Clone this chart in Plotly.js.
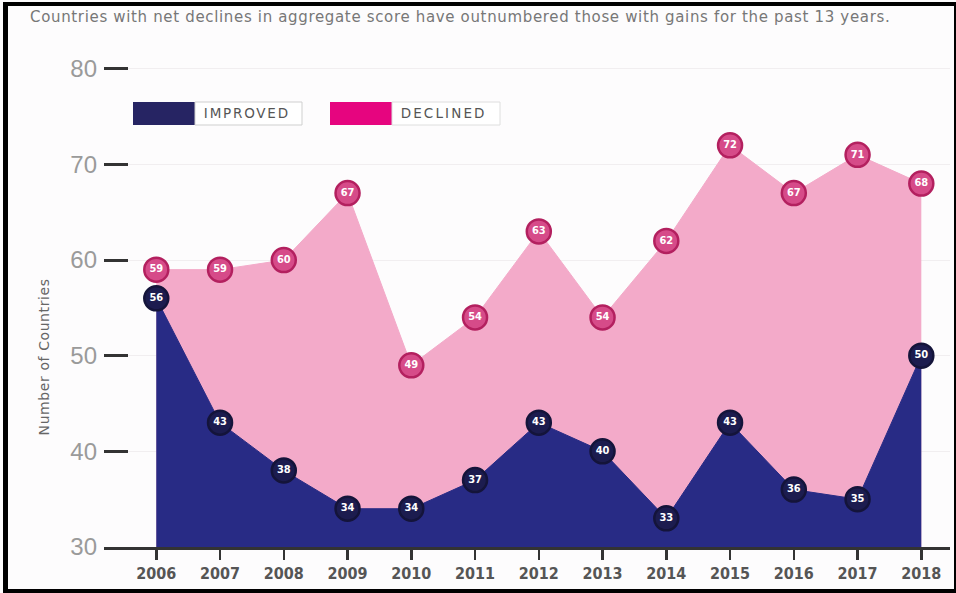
<!DOCTYPE html>
<html>
<head>
<meta charset="utf-8">
<script src="https://cdn.plot.ly/plotly-3.0.1.min.js"></script>
<style>
  html, body { margin: 0; padding: 0; background: #fdfcfd; }
  #chart { width: 956px; height: 593px; }
  #frame { position: absolute; left: 3px; top: 2px; width: 946px; height: 583px; border: 4px solid #000; border-left-width: 5px; pointer-events: none; }
</style>
</head>
<body>
<div id="chart"></div>
<div id="frame"></div>
<script>
const years = [2006, 2007, 2008, 2009, 2010, 2011, 2012, 2013, 2014, 2015, 2016, 2017, 2018];
const declined = [59, 59, 60, 67, 49, 54, 63, 54, 62, 72, 67, 71, 68];
const improved = [56, 43, 38, 34, 34, 37, 43, 40, 33, 43, 36, 35, 50];
const yTicks = [30, 40, 50, 60, 70, 80];
const legendLabels = ['IMPROVED', 'DECLINED'];
const titleText = 'Countries with net declines in aggregate score have outnumbered those with gains for the past 13 years.';
const yTitle = 'Number of Countries';

const L = 104, R = 950, T = 64, B = 547;
const px = x => (x - L) / (R - L);
const py = y => (B - y) / (B - T);
const COND = 'DejaVu Sans Condensed, Liberation Sans Narrow, sans-serif';

const traces = [
  {
    x: years, y: declined, type: 'scatter', mode: 'lines+markers+text',
    fill: 'tozeroy', fillcolor: '#f3aac9',
    line: { color: '#f3aac9', width: 1 },
    marker: { size: 24, color: '#d64b89', line: { color: '#b3205f', width: 2.5 } },
    text: declined.map(String), textposition: 'middle center',
    textfont: { color: '#ffffff', size: 11, family: COND, weight: 'bold' },
    hoverinfo: 'x+y', cliponaxis: false
  },
  {
    x: years, y: improved, type: 'scatter', mode: 'lines+markers+text',
    fill: 'tozeroy', fillcolor: '#282b85',
    line: { color: '#282b85', width: 1 },
    marker: { size: 24, color: '#1c1c4f', line: { color: '#14143a', width: 2.5 } },
    text: improved.map(String), textposition: 'middle center',
    textfont: { color: '#ffffff', size: 11, family: COND, weight: 'bold' },
    hoverinfo: 'x+y', cliponaxis: false
  }
];

const shapes = [
  { type: 'rect', xref: 'paper', yref: 'paper', x0: px(133), x1: px(195), y0: py(125), y1: py(102), fillcolor: '#262463', line: { width: 0 } },
  { type: 'rect', xref: 'paper', yref: 'paper', x0: px(195), x1: px(302), y0: py(125), y1: py(102), fillcolor: '#ffffff', line: { color: '#cfcfcf', width: 1 } },
  { type: 'rect', xref: 'paper', yref: 'paper', x0: px(330), x1: px(392), y0: py(125), y1: py(102), fillcolor: '#e6057f', line: { width: 0 } },
  { type: 'rect', xref: 'paper', yref: 'paper', x0: px(392), x1: px(500), y0: py(125), y1: py(102), fillcolor: '#ffffff', line: { color: '#dedede', width: 1 } }
];

const annotations = [
  { xref: 'paper', yref: 'paper', x: px(247), y: py(113.5), text: legendLabels[0], showarrow: false,
    font: { size: 12, color: '#555', family: 'DejaVu Sans, sans-serif' }, xanchor: 'center', yanchor: 'middle' },
  { xref: 'paper', yref: 'paper', x: px(443), y: py(113.5), text: legendLabels[1], showarrow: false,
    font: { size: 12, color: '#555', family: 'DejaVu Sans, sans-serif' }, xanchor: 'center', yanchor: 'middle' },
  { xref: 'paper', yref: 'paper', x: px(44), y: py(357), text: yTitle, showarrow: false, textangle: -90,
    font: { size: 12.5, color: '#666', family: 'DejaVu Sans, sans-serif' }, xanchor: 'center', yanchor: 'middle' }
];

const layout = {
  width: 956, height: 593,
  margin: { l: L, r: 956 - R, t: T, b: 593 - B },
  paper_bgcolor: '#fdfcfd', plot_bgcolor: '#fdfcfd',
  showlegend: false,
  title: {
    text: titleText, x: 30 / 956, xanchor: 'left', y: 1 - 17 / 593, yanchor: 'middle',
    font: { size: 13.5, color: '#777', family: 'DejaVu Sans, sans-serif' }
  },
  xaxis: {
    range: [2005.18, 2018.45], tickvals: years, ticktext: years.map(String),
    showgrid: false, zeroline: false, showline: true, linecolor: '#333', linewidth: 3,
    ticks: 'outside', ticklen: 10, tickwidth: 2.5, tickcolor: '#333',
    tickfont: { size: 16, color: '#555', family: COND, weight: 'bold' }
  },
  yaxis: {
    range: [30, 80.5], tickvals: yTicks, ticktext: yTicks.map(String),
    showgrid: true, gridcolor: '#f1eef0', gridwidth: 1, zeroline: false, showline: false,
    ticks: 'inside', ticklen: 24, tickwidth: 3, tickcolor: '#333',
    ticklabelstandoff: 6,
    tickfont: { size: 24, color: '#9a9a9a', family: 'Liberation Sans, Arial, sans-serif' }
  },
  shapes: shapes,
  annotations: annotations
};

function fitText(el, target, maxSize) {
  if (!el) return;
  el.style.letterSpacing = '0px';
  const n = (el.textContent || '').length;
  let w = el.getComputedTextLength ? el.getComputedTextLength() : 0;
  if (!(n > 1 && w > 0)) return;
  const s = parseFloat(window.getComputedStyle(el).fontSize) || 12;
  let ns = s * target / w;
  if (ns > maxSize) ns = maxSize;
  el.style.fontSize = ns.toFixed(2) + 'px';
  w = el.getComputedTextLength();
  if (w < target) el.style.letterSpacing = ((target - w) / n).toFixed(2) + 'px';
}

Plotly.newPlot('chart', traces, layout, { displayModeBar: false, staticPlot: true }).then(function () {
  fitText(document.querySelector('.gtitle'), 860, 15);
  const anns = document.querySelectorAll('.annotation-text');
  anns.forEach(function (a) {
    const t = a.textContent;
    if (t === legendLabels[0] || t === legendLabels[1]) fitText(a, 86, 13.5);
    else if (t === yTitle) fitText(a, 157, 14);
  });
});
</script>
</body>
</html>
